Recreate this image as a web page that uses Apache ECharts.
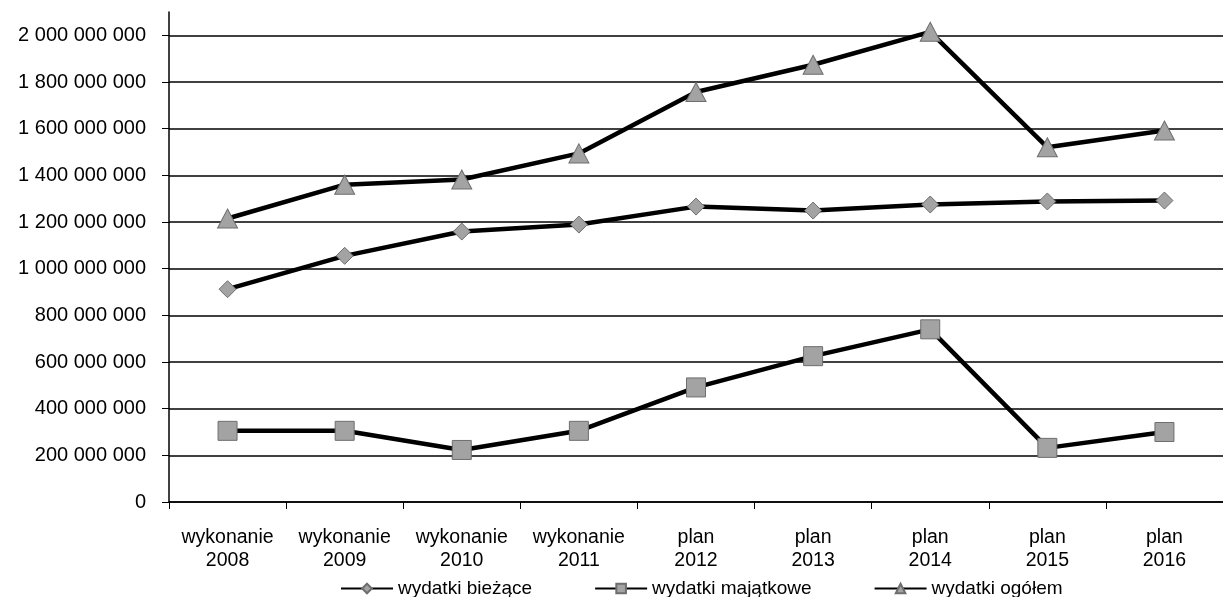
<!DOCTYPE html>
<html><head><meta charset="utf-8">
<script src="https://cdn.jsdelivr.net/npm/echarts@6/dist/echarts.min.js"></script>
<style>html,body{margin:0;padding:0;background:#fff}#c{width:1223px;height:597px}</style>
</head><body><div id="c"></div>
<script>
const categories = ['wykonanie\n2008','wykonanie\n2009','wykonanie\n2010','wykonanie\n2011','plan\n2012','plan\n2013','plan\n2014','plan\n2015','plan\n2016'];
const biezace = [912e6, 1055e6, 1159e6, 1189e6, 1266e6, 1249e6, 1275e6, 1288e6, 1292e6];
const majatkowe = [305e6, 305e6, 223e6, 305e6, 491e6, 625e6, 740e6, 232e6, 300e6];
const ogolem = [1215e6, 1360e6, 1382e6, 1494e6, 1757e6, 1874e6, 2015e6, 1520e6, 1592e6];
const yTicks = [0,2e8,4e8,6e8,8e8,1e9,1.2e9,1.4e9,1.6e9,1.8e9,2e9];

const font = 'Liberation Sans, Arial, sans-serif';
const fmt = v => String(Math.round(v)).replace(/\B(?=(\d{3})+(?!\d))/g, ' ');
const mk = (name, data, symbol, size) => ({
  name, type: 'line', data, symbol, symbolSize: size, showAllSymbol: true,
  lineStyle: { color: '#000', width: 4.5 },
  itemStyle: { color: '#a3a3a3', borderColor: '#6e6e6e', borderWidth: 1 },
  z: 3, animation: false
});
const chart = echarts.init(document.getElementById('c'), null, { renderer: 'canvas' });
chart.setOption({
  animation: false,
  grid: { left: 169, right: -9, top: 12, bottom: 95 },
  legend: {
    left: 335, top: 574, itemGap: 62, itemWidth: 52, itemHeight: 12,
    textStyle: { fontFamily: font, fontSize: 19, color: '#000' },
    data: ['wydatki bieżące', 'wydatki majątkowe', 'wydatki ogółem']
  },
  xAxis: {
    type: 'category', data: categories, boundaryGap: true,
    axisLine: { lineStyle: { color: '#000', width: 1.5 } },
    axisTick: { show: true, length: 7, lineStyle: { color: '#000' } },
    axisLabel: { fontFamily: font, fontSize: 19.5, color: '#000', lineHeight: 23, margin: 24, interval: 0 }
  },
  yAxis: {
    type: 'value', min: 0, max: 2.1e9, interval: 2e8,
    axisLine: { show: true, lineStyle: { color: '#000', width: 1.5 } },
    axisTick: { show: true, length: 7, customValues: yTicks, lineStyle: { color: '#000' } },
    axisLabel: { fontFamily: font, fontSize: 20, color: '#000', margin: 23, customValues: yTicks, formatter: fmt },
    splitLine: { show: true, lineStyle: { color: '#000', width: 1.5 } }
  },
  series: [
    mk('wydatki bieżące', biezace, 'diamond', [17, 17]),
    mk('wydatki majątkowe', majatkowe, 'rect', 19),
    mk('wydatki ogółem', ogolem, 'triangle', [20, 19])
  ]
});
</script></body></html>
